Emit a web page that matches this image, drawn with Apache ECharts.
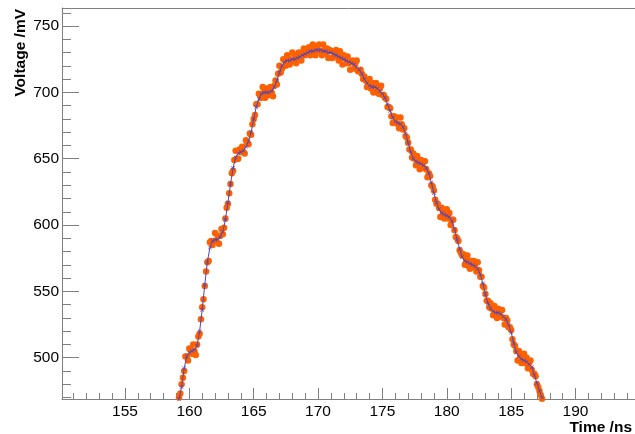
<!DOCTYPE html>
<html>
<head>
<meta charset="utf-8">
<script src="https://cdn.jsdelivr.net/npm/echarts@6/dist/echarts.min.js"></script>
<style>
  html, body { margin: 0; padding: 0; background: #fff; }
  #chart { width: 635px; height: 434px; }
</style>
</head>
<body>
<div id="chart"></div>
<script>
// Pulse sampled every 0.1 ns (individual samples) and its running average every 0.2 ns.
const rawStart = 159.2;   // ns
const rawStep = 0.1;      // ns
const meanStart = 159.2;  // ns
const meanStep = 0.2;     // ns

// Individual samples, mV
const rawVoltage = [
  470,473,480,485,490,501,501,498,507,506,503,510,505,502,510,516,518,529,538,544,
  554,565,572,573,587,588,585,588,594,588,592,586,592,597,593,598,605,613,616,624,
  631,639,641,649,656,650,650,657,655,659,655,654,664,662,661,669,668,676,680,683,
  691,691,699,698,696,704,700,696,703,702,698,704,700,697,705,709,706,714,720,715,
  718,725,724,720,728,726,721,724,730,724,728,722,727,730,725,724,730,733,728,730,
  731,734,728,733,736,729,728,735,732,736,731,728,736,732,729,733,726,732,731,726,
  731,727,732,728,724,731,726,721,728,726,722,727,722,717,723,724,718,722,724,716,
  716,717,714,710,712,709,704,706,710,703,707,700,705,707,701,699,703,705,698,698,
  696,695,689,689,688,682,677,682,678,681,676,673,681,676,672,673,667,666,662,657,
  657,651,654,650,645,652,647,642,649,647,643,648,642,636,639,637,630,629,626,619,
  616,616,613,606,613,610,605,607,612,605,609,600,604,604,596,591,590,588,581,579,
  577,578,570,574,577,569,567,573,570,573,568,565,572,566,561,561,554,553,548,543,
  543,538,541,537,532,539,534,530,537,535,531,536,530,525,530,528,523,523,521,514,
  510,509,505,498,505,502,496,498,503,496,500,492,496,498,491,488,488,486,480,478,
  475,472,469
];

// Averaged waveform, mV
const meanVoltage = [
  469,478,492,501,504,505,506,509,520,536,
  555,572,583,588,589,589,591,595,604,617,
  631,643,651,654,655,656,659,663,670,680,
  689,695,699,700,700,700,701,704,709,715,
  720,723,724,724,725,725,726,727,728,729,
  730,731,731,732,732,732,731,731,730,730,
  729,728,727,726,725,724,723,722,721,719,
  717,714,710,707,705,704,704,703,701,699,
  696,691,686,681,678,677,676,674,669,662,
  655,650,648,647,646,645,643,639,632,624,
  617,612,609,608,607,606,603,597,589,582,
  576,573,572,571,570,569,567,563,556,548,
  541,537,535,534,534,533,531,529,525,519,
  511,504,501,499,498,497,495,493,487,481,
  475,470
];

// Axis ticks
const xMajorTicks = [155, 160, 165, 170, 175, 180, 185, 190];
const xMinorTicks = [151,152,153,154,156,157,158,159,161,162,163,164,166,167,168,169,
                     171,172,173,174,176,177,178,179,181,182,183,184,186,187,188,189,
                     191,192,193,194];
const yMajorTicks = [500, 550, 600, 650, 700, 750];
const yMinorTicks = [470,480,490,510,520,530,540,560,570,580,590,610,620,630,640,
                     660,670,680,690,710,720,730,740,760];

const xRange = [150.11, 194.62];
const yRange = [468.9, 763.6];

const rawPoints = rawVoltage.map((v, i) => [rawStart + i * rawStep, v]);
const meanPoints = meanVoltage.map((v, i) => [meanStart + i * meanStep, v]);

const axisGray = '#808080';
const fontFamily = '"Liberation Sans", Arial, Helvetica, sans-serif';
const crossPath = 'path://M0,1L1,0L5,4L9,0L10,1L6,5L10,9L9,10L5,6L1,10L0,9L4,5Z';

const chart = echarts.init(document.getElementById('chart'), null, { renderer: 'canvas' });

chart.setOption({
  animation: false,
  backgroundColor: '#ffffff',
  grid: { left: 62, top: 8, right: 0, bottom: 35, containLabel: false },
  xAxis: [
    {
      type: 'value', min: xRange[0], max: xRange[1], position: 'bottom',
      axisLine: { show: true, onZero: false, lineStyle: { color: axisGray, width: 1 } },
      axisTick: { show: true, inside: true, length: 11, customValues: xMajorTicks,
                  lineStyle: { color: axisGray, width: 1 } },
      axisLabel: { show: true, customValues: xMajorTicks, margin: 5,
                   color: '#000', fontSize: 15.5, fontFamily: fontFamily },
      splitLine: { show: false }
    },
    {
      type: 'value', min: xRange[0], max: xRange[1], position: 'bottom',
      axisLine: { show: false, onZero: false },
      axisTick: { show: true, inside: true, length: 6, customValues: xMinorTicks,
                  lineStyle: { color: axisGray, width: 1 } },
      axisLabel: { show: false },
      splitLine: { show: false }
    },
    {
      type: 'value', min: xRange[0], max: xRange[1], position: 'top',
      axisLine: { show: true, onZero: false, lineStyle: { color: axisGray, width: 1 } },
      axisTick: { show: false },
      axisLabel: { show: false },
      splitLine: { show: false }
    }
  ],
  yAxis: [
    {
      type: 'value', min: yRange[0], max: yRange[1], position: 'left',
      axisLine: { show: true, onZero: false, lineStyle: { color: axisGray, width: 1 } },
      axisTick: { show: true, inside: true, length: 17, customValues: yMajorTicks,
                  lineStyle: { color: axisGray, width: 1 } },
      axisLabel: { show: true, customValues: yMajorTicks, margin: 3,
                   color: '#000', fontSize: 15.5, fontFamily: fontFamily },
      splitLine: { show: false }
    },
    {
      type: 'value', min: yRange[0], max: yRange[1], position: 'left',
      axisLine: { show: false, onZero: false },
      axisTick: { show: true, inside: true, length: 9, customValues: yMinorTicks,
                  lineStyle: { color: axisGray, width: 1 } },
      axisLabel: { show: false },
      splitLine: { show: false }
    }
  ],
  series: [
    {
      name: 'samples',
      type: 'scatter',
      xAxisIndex: 0, yAxisIndex: 0,
      data: rawPoints,
      symbol: 'circle',
      symbolSize: 6.5,
      itemStyle: { color: '#ff6000', opacity: 1 },
      clip: true,
      z: 2
    },
    {
      name: 'average',
      type: 'line',
      xAxisIndex: 0, yAxisIndex: 0,
      data: meanPoints,
      showSymbol: true,
      symbol: crossPath,
      symbolSize: 4,
      itemStyle: { color: '#5244b8' },
      lineStyle: { color: '#5244b8', width: 1 },
      clip: true,
      z: 3
    }
  ],
  graphic: [
    {
      type: 'text', x: 20.5, y: 9, rotation: Math.PI / 2,
      style: { text: 'Voltage /mV', fill: '#000', fontSize: 15.5, fontWeight: 'bold',
               fontFamily: fontFamily, align: 'right', verticalAlign: 'middle' }
    },
    {
      type: 'text', x: 632, y: 427.5,
      style: { text: 'Time /ns', fill: '#000', fontSize: 15.5, fontWeight: 'bold',
               fontFamily: fontFamily, align: 'right', verticalAlign: 'middle' }
    }
  ]
});
</script>
</body>
</html>
